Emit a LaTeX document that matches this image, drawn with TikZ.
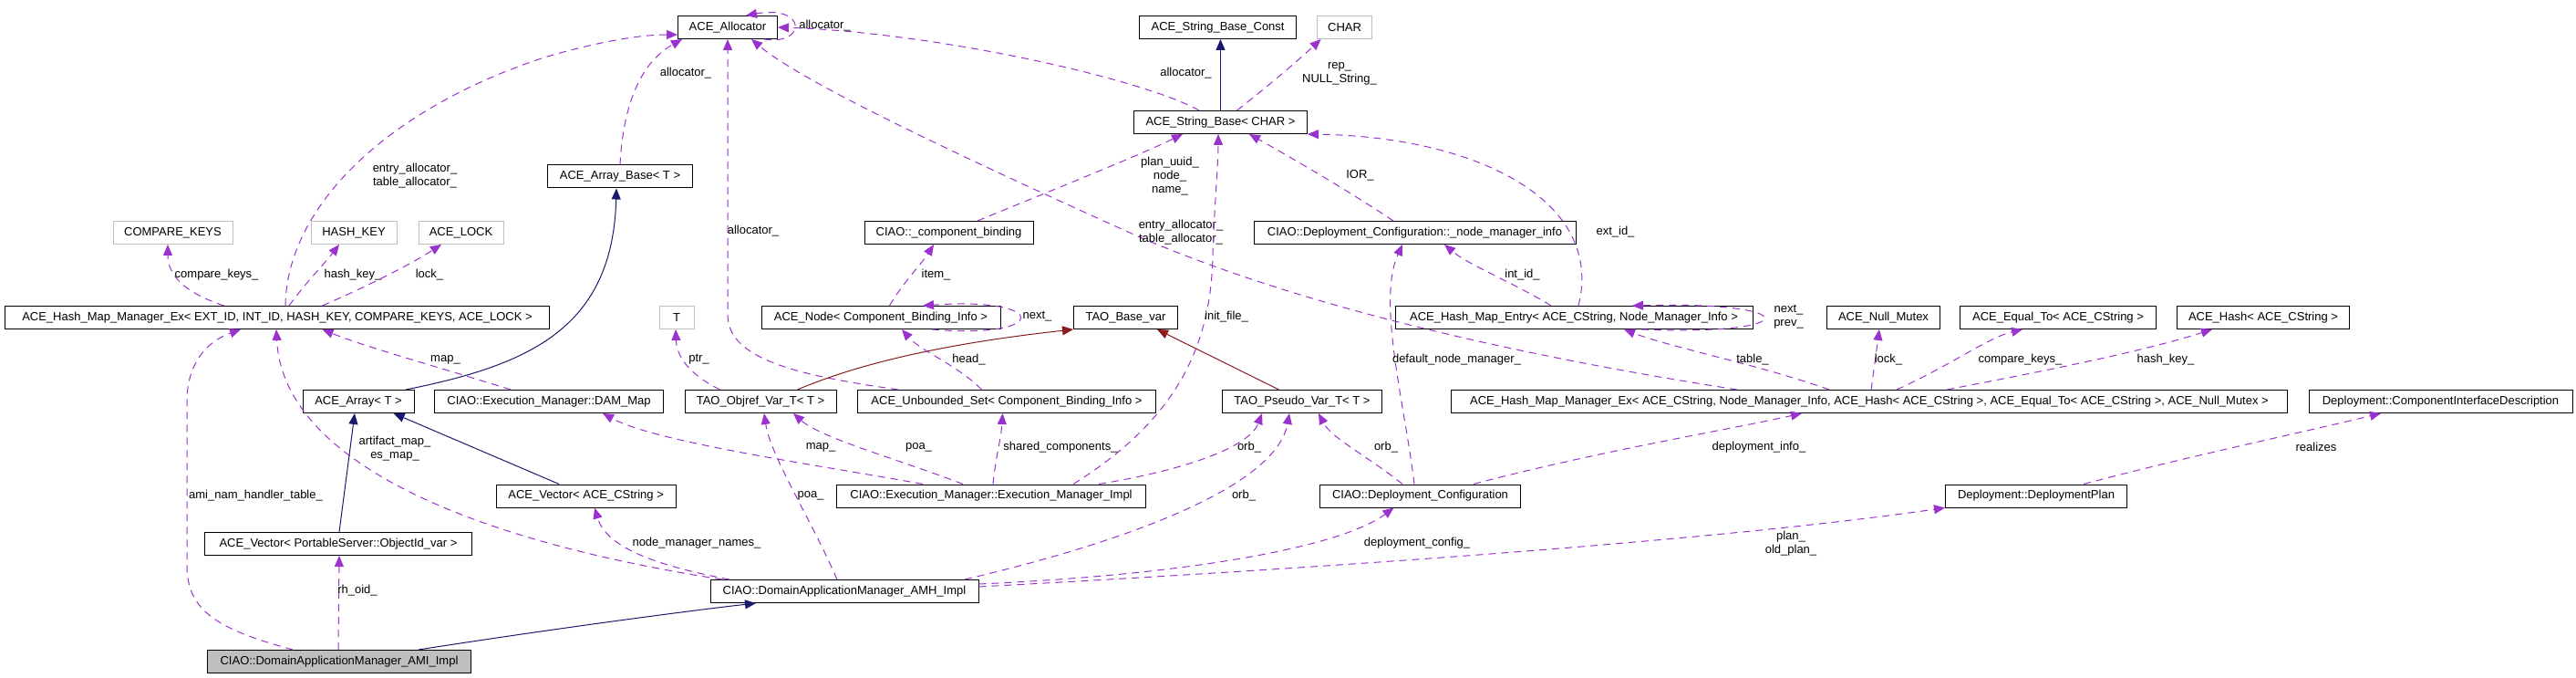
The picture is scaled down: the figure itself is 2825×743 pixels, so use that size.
\documentclass[tikz,border=0pt]{standalone}
\usepackage{fontspec}
\setmainfont{Liberation Sans}
\usetikzlibrary{arrows.meta}
\definecolor{usecol}{HTML}{9A32CD}
\definecolor{inhcol}{HTML}{191970}
\definecolor{protcol}{HTML}{8B1A1A}
\definecolor{grayb}{HTML}{BFBFBF}
\begin{document}
\begin{tikzpicture}[x=1pt,y=-1pt,
  every node/.style={font=\fontsize{13}{15}\selectfont},
  box/.style={draw=black, line width=1pt, rectangle, inner sep=0pt, minimum height=25pt, fill=white},
  gbox/.style={box, draw=grayb},
  hbox/.style={box, fill=grayb},
  lbl/.style={inner sep=0pt, align=center},
  usearr/.style={draw=usecol, line width=1pt, dash pattern=on 8pt off 6pt, -{Triangle[length=12pt,width=10pt,fill=usecol]}},
  inharr/.style={draw=inhcol, line width=1pt, -{Triangle[length=12pt,width=10pt,fill=inhcol]}},
  protarr/.style={draw=protcol, line width=1pt, -{Triangle[length=12pt,width=10pt,fill=protcol]}}
]
\useasboundingbox[fill=white] (0,0) rectangle (2825,743);

% ---------- nodes ----------
\node[box, minimum width=109pt] (alloc) at (798,30) {ACE\_Allocator};
\node[box, minimum width=172pt] (strconst) at (1335.6,30) {ACE\_String\_Base\_Const};
\node[gbox, minimum width=60pt] (char) at (1474.6,30) {CHAR};
\node[box, minimum width=190pt] (strbase) at (1338.5,134) {ACE\_String\_Base< CHAR >};
\node[box, minimum width=159pt] (arrbase) at (680,193.5) {ACE\_Array\_Base< T >};
\node[gbox, minimum width=131pt] (compkeys) at (189.5,255) {COMPARE\_KEYS};
\node[gbox, minimum width=94pt] (hashkey) at (388,255) {HASH\_KEY};
\node[gbox, minimum width=93pt] (acelock) at (505.5,255) {ACE\_LOCK};
\node[box, minimum width=185pt] (compbind) at (1040.5,255) {CIAO::\_component\_binding};
\node[box, minimum width=353pt] (nmi) at (1551.5,255) {CIAO::Deployment\_Configuration::\_node\_manager\_info};
\node[box, minimum width=597pt] (hashext) at (304,348) {ACE\_Hash\_Map\_Manager\_Ex< EXT\_ID, INT\_ID, HASH\_KEY, COMPARE\_KEYS, ACE\_LOCK >};
\node[gbox, minimum width=38pt] (tnode) at (742,348) {T};
\node[box, minimum width=262pt] (acenode) at (966,348) {ACE\_Node< Component\_Binding\_Info >};
\node[box, minimum width=114pt] (basevar) at (1234.5,348) {TAO\_Base\_var};
\node[box, minimum width=392pt] (hme) at (1726,348) {ACE\_Hash\_Map\_Entry< ACE\_CString, Node\_Manager\_Info >};
\node[box, minimum width=124pt] (nullmutex) at (2065.5,348) {ACE\_Null\_Mutex};
\node[box, minimum width=214.5pt] (equalto) at (2257,348) {ACE\_Equal\_To< ACE\_CString >};
\node[box, minimum width=189.5pt] (acehash) at (2482,348) {ACE\_Hash< ACE\_CString >};
\node[box, minimum width=122pt] (array) at (393,440) {ACE\_Array< T >};
\node[box, minimum width=251.5pt] (dam) at (602,440) {CIAO::Execution\_Manager::DAM\_Map};
\node[box, minimum width=166pt] (objref) at (834,440) {TAO\_Objref\_Var\_T< T >};
\node[box, minimum width=327.5pt] (unb) at (1104,440) {ACE\_Unbounded\_Set< Component\_Binding\_Info >};
\node[box, minimum width=175.5pt] (pseudo) at (1428,440) {TAO\_Pseudo\_Var\_T< T >};
\node[box, minimum width=917.5pt] (hashcs) at (2050,440) {ACE\_Hash\_Map\_Manager\_Ex< ACE\_CString, Node\_Manager\_Info, ACE\_Hash< ACE\_CString >, ACE\_Equal\_To< ACE\_CString >, ACE\_Null\_Mutex >};
\node[box, minimum width=289pt] (cid) at (2676.5,440) {Deployment::ComponentInterfaceDescription};
\node[box, minimum width=197pt] (veccs) at (642.6,543.5) {ACE\_Vector< ACE\_CString >};
\node[box, minimum width=339.5pt] (execimpl) at (1087,543.5) {CIAO::Execution\_Manager::Execution\_Manager\_Impl};
\node[box, minimum width=220.4pt] (depconf) at (1557.5,543.5) {CIAO::Deployment\_Configuration};
\node[box, minimum width=199pt] (depplan) at (2233,543.5) {Deployment::DeploymentPlan};
\node[box, minimum width=292.5pt] (vecps) at (371,596) {ACE\_Vector< PortableServer::ObjectId\_var >};
\node[box, minimum width=294pt] (amh) at (926,648) {CIAO::DomainApplicationManager\_AMH\_Impl};
\node[hbox, minimum width=289.5pt] (ami) at (372,725) {CIAO::DomainApplicationManager\_AMI\_Impl};

% ---------- edges ----------
\draw[usearr] ([xshift=40pt]alloc.south) .. controls (885,50) and (885,5) .. ([xshift=20pt]alloc.north);
\node[lbl] (l1) at (904.5,28) {allocator\_};

\draw[usearr] (arrbase.north) .. controls (683,120) and (700,70) .. ([xshift=5pt]alloc.south west);
\node[lbl] (l2) at (752,80) {allocator\_};

\draw[usearr] ([xshift=9pt]hashext.north) .. controls (314,230) and (420,120) .. (600,62) .. controls (670,42) and (710,38) .. ([yshift=-8pt]alloc.west);
\node[lbl] (l3) at (455,193) {entry\_allocator\_\\table\_allocator\_};

\draw[usearr] ([xshift=-119pt]unb.north) .. controls (880,412) and (798,395) .. (798,345) -- (alloc.south);
\node[lbl] (l4) at (826,253) {allocator\_};

\draw[usearr] ([xshift=-145pt]hashcs.north) .. controls (1700,395) and (1450,345) .. (1250,260) .. controls (1050,170) and (880,90) .. ([xshift=26pt]alloc.south);
\node[lbl] (l5) at (1295,254.5) {entry\_allocator\_\\table\_allocator\_};

\draw[inharr] (strbase.north) -- (strbase.north |- strconst.south);

\draw[usearr] ([xshift=18pt]strbase.north) .. controls (1390,95) and (1425,65) .. ([xshift=-26pt]char.south);
\node[lbl] (l7) at (1469,80.5) {rep\_\\NULL\_String\_};

\draw[usearr] ([xshift=-23.5pt]strbase.north) .. controls (1250,85) and (1020,35) .. (alloc.east);
\node[lbl] (l8) at (1300.5,80) {allocator\_};

\draw[usearr] ([xshift=31.5pt]compbind.north) .. controls (1150,210) and (1250,170) .. ([xshift=-41.5pt]strbase.south);
\node[lbl] (l9) at (1283,193) {plan\_uuid\_\\node\_\\name\_};

\draw[usearr] ([xshift=90pt]execimpl.north) .. controls (1290,460) and (1328,380) .. (1330,280) .. controls (1332,220) and (1336,180) .. ([xshift=-2.5pt]strbase.south);
\node[lbl] (l10) at (1345,347) {init\_file\_};

\draw[usearr] ([xshift=-23.5pt]nmi.north) .. controls (1480,210) and (1420,175) .. ([xshift=31.5pt]strbase.south);
\node[lbl] (l11) at (1491.5,192) {IOR\_};

\draw[usearr] ([xshift=5pt]hme.north) .. controls (1760,220) and (1620,150) .. (strbase.south east);
\node[lbl] (l12) at (1771.5,254) {ext\_id\_};

\draw[usearr] ([xshift=74pt]hme.south) .. controls (1980,368) and (1980,330) .. ([xshift=64pt]hme.north);
\node[lbl] (l13) at (1961.5,347.5) {next\_\\prev\_};

\draw[usearr] ([xshift=-44pt]hashcs.north) .. controls (1930,400) and (1830,380) .. ([xshift=55pt]hme.south);
\node[lbl] (l14) at (1922,394) {table\_};

\draw[usearr] ([xshift=-25pt]hme.north) .. controls (1660,310) and (1610,290) .. ([xshift=32.5pt]nmi.south);
\node[lbl] (l15) at (1669.5,301) {int\_id\_};

\draw[usearr] ([xshift=2pt]hashcs.north) -- ([xshift=-4.5pt]nullmutex.south);
\node[lbl] (l16) at (2071,394) {lock\_};

\draw[usearr] ([xshift=30pt]hashcs.north) .. controls (2140,400) and (2180,370) .. ([xshift=-39pt]equalto.south);
\node[lbl] (l17) at (2215.5,394) {compare\_keys\_};

\draw[usearr] ([xshift=85pt]hashcs.north) .. controls (2250,405) and (2350,385) .. ([xshift=-56pt]acehash.south);
\node[lbl] (l18) at (2375,394) {hash\_key\_};

\draw[usearr] ([xshift=58.5pt]depconf.north) .. controls (1750,495) and (1900,470) .. ([xshift=-74pt]hashcs.south);
\node[lbl] (l19) at (1929,490) {deployment\_info\_};

\draw[usearr] ([xshift=52pt]depplan.north) .. controls (2400,500) and (2520,475) .. ([xshift=-65.5pt]cid.south);
\node[lbl] (l20) at (2540,490) {realizes};

\draw[usearr] ([yshift=5pt]amh.east) .. controls (1500,620) and (1900,590) .. (depplan.south west);
\node[lbl] (l21) at (1964,595.5) {plan\_\\old\_plan\_};

\draw[usearr] ([yshift=8pt]amh.east) .. controls (1300,630) and (1470,600) .. ([xshift=-29pt]depconf.south);
\node[lbl] (l22) at (1554,595) {deployment\_config\_};

\draw[usearr] ([xshift=132pt]amh.north) .. controls (1250,590) and (1400,530) .. ([xshift=-14pt]pseudo.south);
\node[lbl] (l23) at (1364,543) {orb\_};

\draw[usearr] ([xshift=118pt]execimpl.north) .. controls (1300,515) and (1370,490) .. ([xshift=-44pt]pseudo.south);
\node[lbl] (l24) at (1370,490) {orb\_};

\draw[usearr] ([xshift=-19.5pt]depconf.north) .. controls (1500,500) and (1460,480) .. ([xshift=18pt]pseudo.south);
\node[lbl] (l25) at (1520,490) {orb\_};

\draw[usearr] ([xshift=-6.5pt]depconf.north) .. controls (1540,440) and (1510,330) .. ([xshift=-13.5pt]nmi.south);
\node[lbl] (l26) at (1597.5,394) {default\_node\_manager\_};

\draw[protarr] ([xshift=-25.5pt]pseudo.north) -- ([xshift=34.5pt]basevar.south);
\draw[protarr] ([xshift=40.5pt]objref.north) .. controls (950,395) and (1050,375) .. (basevar.south west);

\draw[usearr] ([xshift=-44.5pt]objref.north) .. controls (755,410) and (742,390) .. ([xshift=-1pt]tnode.south);
\node[lbl] (l29) at (766.5,394) {ptr\_};

\draw[usearr] ([xshift=56pt]acenode.south) .. controls (1152,372) and (1152,325) .. ([xshift=46pt]acenode.north);
\node[lbl] (l30) at (1137.5,347) {next\_};

\draw[usearr] ([xshift=9.5pt]acenode.north) .. controls (990,310) and (1010,290) .. ([xshift=-16.5pt]compbind.south);
\node[lbl] (l31) at (1026.5,301) {item\_};

\draw[usearr] ([xshift=-27.5pt]unb.north) .. controls (1050,400) and (1010,385) .. ([xshift=23pt]acenode.south);
\node[lbl] (l32) at (1062.5,394) {head\_};

\draw[usearr] ([xshift=2pt]execimpl.north) .. controls (1092,500) and (1098,480) .. ([xshift=-4.5pt]unb.south);
\node[lbl] (l33) at (1163,490) {shared\_components\_};

\draw[usearr] ([xshift=-31pt]execimpl.north) .. controls (990,505) and (900,480) .. ([xshift=36pt]objref.south);
\node[lbl] (l34) at (1007.5,490) {poa\_};

\draw[usearr] ([xshift=-8pt]amh.north) .. controls (890,570) and (845,500) .. ([xshift=4pt]objref.south);
\node[lbl] (l35) at (889,543) {poa\_};

\draw[usearr] ([xshift=-75pt]execimpl.north) .. controls (900,510) and (720,485) .. ([xshift=59pt]dam.south);
\node[lbl] (l36) at (900,490) {map\_};

\draw[usearr] ([xshift=-42pt]dam.north) .. controls (490,405) and (400,380) .. ([xshift=49.5pt]hashext.south);
\node[lbl] (l37) at (488.5,394) {map\_};

\draw[usearr] ([xshift=-134pt]amh.north) .. controls (500,590) and (310,500) .. ([xshift=-1pt]hashext.south);
\node[lbl] (l38) at (433,491.5) {artifact\_map\_\\es\_map\_};

\draw[usearr] ([xshift=-126pt]amh.north) .. controls (720,620) and (665,600) .. ([xshift=9.5pt]veccs.south);
\node[lbl] (l39) at (764,595) {node\_manager\_names\_};

\draw[inharr] ([xshift=-29.5pt]veccs.north) -- ([xshift=38.6pt]array.south);
\draw[inharr] ([xshift=1pt]vecps.north) -- ([xshift=-4pt]array.south);
\draw[inharr] ([xshift=52pt]array.north) .. controls (580,400) and (672,360) .. ([xshift=-4pt]arrbase.south);
\draw[inharr] ([xshift=87pt]ami.north) .. controls (600,690) and (750,670) .. ([xshift=-97pt]amh.south);

\draw[usearr] ([xshift=-1pt]ami.north) -- ([xshift=1pt]vecps.south);
\node[lbl] (l44) at (392,647) {rh\_oid\_};

\draw[usearr] ([xshift=-51pt]ami.north) .. controls (240,690) and (205,670) .. (205,620) -- (205,440) .. controls (205,400) and (225,375) .. ([xshift=-40pt]hashext.south);
\node[lbl] (l45) at (280.5,543) {ami\_nam\_handler\_table\_};

\draw[usearr] ([xshift=-58.4pt]hashext.north) .. controls (200,320) and (184,300) .. ([xshift=-5.5pt]compkeys.south);
\node[lbl] (l46) at (237.6,301) {compare\_keys\_};

\draw[usearr] ([xshift=13pt]hashext.north) .. controls (335,310) and (355,290) .. ([xshift=-16pt]hashkey.south);
\node[lbl] (l47) at (387,301) {hash\_key\_};

\draw[usearr] ([xshift=49.5pt]hashext.north) .. controls (400,315) and (450,290) .. ([xshift=-21.5pt]acelock.south);
\node[lbl] (l48) at (471,301) {lock\_};
\end{tikzpicture}
\end{document}
